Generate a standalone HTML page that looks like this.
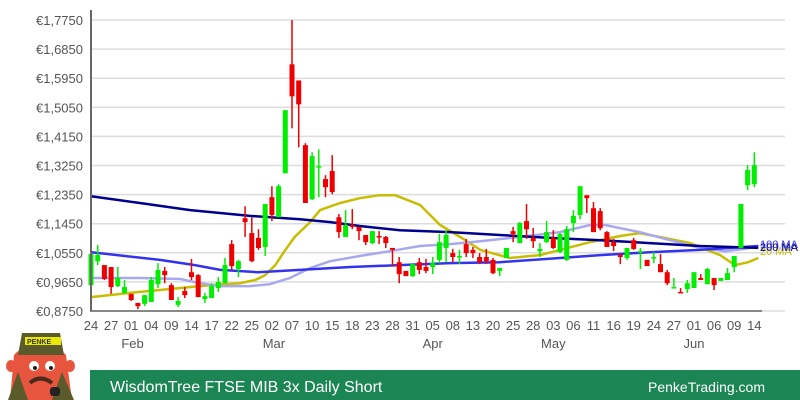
<!DOCTYPE html>
<html><head><meta charset="utf-8"><style>
body{margin:0;background:#fff;}
svg{display:block;font-family:"Liberation Sans",Arial,sans-serif;}
</style></head><body>
<svg id="chart" width="800" height="400" viewBox="0 0 800 400">
  <g id="grid"></g>
  <g id="yticks"></g>
  <g id="mas"></g>
  <g id="candles"></g>
  <g id="xticks"></g>
  <line x1="91" y1="10" x2="91" y2="311" stroke="#666" stroke-width="2"/>
  <line x1="90" y1="311" x2="762" y2="311" stroke="#666" stroke-width="1.5"/>
  <g id="malabels" font-size="11">
    <text x="760" y="250" fill="#a0a0ee">50 MA</text>
    <text x="760" y="255" fill="#c8bd00">20 MA</text>
    <text x="760" y="248" fill="#3333ee">100 MA</text>
    <text x="760" y="251" fill="#000080">200 MA</text>
  </g>
  <rect x="90" y="370" width="710" height="30" fill="#1b8553"/>
  <text x="110" y="392" fill="#fff" font-size="16">WisdomTree FTSE MIB 3x Daily Short</text>
  <text x="648" y="392" fill="#fff" font-size="14">PenkeTrading.com</text>
  <g>
    <path d="M10 400 L14 355 Q22 345 40 345 Q58 345 66 355 L72 400 Z" fill="#e8553e"/>
    <path d="M8 400 L18 372 L28 400 Z M52 400 L62 372 L74 400 Z" fill="#5b5a2a"/>
    <ellipse cx="11" cy="366" rx="5" ry="6" fill="#e8553e"/>
    <ellipse cx="70" cy="366" rx="5" ry="6" fill="#e8553e"/>
    <path d="M18 355 L22 333 L60 333 L64 355 Z" fill="#5b5a2a"/>
    <rect x="25" y="337" width="36" height="8" fill="#e8e800"/>
    <text x="27" y="344" font-size="7" font-weight="bold" fill="#333">PENKE</text>
    <circle cx="34" cy="366" r="5" fill="#fff"/><circle cx="50" cy="366" r="5" fill="#fff"/>
    <circle cx="35" cy="368" r="2" fill="#222"/><circle cx="51" cy="368" r="2" fill="#222"/>
    <path d="M30 383 Q40 374 52 383" stroke="#4a2a1a" stroke-width="4" fill="none"/>
    <rect x="50" y="387" width="10" height="9" rx="3" fill="#222"/>
  </g>
</svg>
<script>
// candle data (euro)
const opens  =[0.955,1.029,1.017,1.011,0.952,0.931,0.928,0.900,0.897,0.903,0.958,0.999,0.955,0.894,0.937,0.995,0.986,0.912,0.915,0.946,0.961,1.082,1.005,1.162,1.116,1.101,1.073,1.227,1.165,1.301,1.638,1.588,1.388,1.221,1.320,1.283,1.308,1.165,1.104,1.141,1.135,1.110,1.085,1.107,1.104,1.070,1.026,0.999,0.983,1.026,1.011,1.011,1.033,1.070,1.054,1.042,1.082,1.064,1.042,1.042,1.033,0.999,1.039,1.122,1.085,1.153,1.101,1.060,1.088,1.101,1.057,1.033,1.147,1.172,1.233,1.193,1.184,1.119,1.088,1.048,1.039,1.094,1.057,1.033,1.039,1.020,0.995,0.946,0.934,0.943,0.946,0.977,0.958,0.977,0.968,0.971,1.011,1.070,1.264,1.267];
const highs  =[1.070,1.079,1.017,1.011,1.011,0.971,0.928,0.900,0.924,0.980,1.023,1.011,0.961,0.918,0.949,1.036,0.989,0.931,0.961,0.980,1.039,1.094,1.033,1.199,1.165,1.128,1.206,1.261,1.267,1.496,1.775,1.588,1.394,1.366,1.375,1.295,1.357,1.175,1.187,1.190,1.135,1.110,1.122,1.122,1.107,1.070,1.042,0.999,1.020,1.039,1.036,1.042,1.113,1.125,1.067,1.064,1.098,1.073,1.054,1.067,1.039,1.008,1.070,1.135,1.150,1.206,1.132,1.085,1.153,1.125,1.116,1.138,1.187,1.261,1.233,1.212,1.193,1.122,1.098,1.054,1.070,1.101,1.070,1.033,1.057,1.051,1.002,0.977,0.946,0.971,0.995,0.989,1.008,0.977,0.977,1.008,1.045,1.206,1.326,1.366];
const lows   =[0.949,1.017,0.971,0.928,0.949,0.928,0.906,0.881,0.890,0.903,0.946,0.961,0.909,0.887,0.915,0.971,0.918,0.900,0.915,0.934,0.961,1.002,0.980,1.104,1.026,1.064,1.045,1.153,1.165,1.301,1.440,1.381,1.209,1.218,1.227,1.227,1.236,1.101,1.104,1.128,1.094,1.079,1.082,1.082,1.070,1.014,0.961,0.983,0.980,0.989,0.992,0.989,1.023,1.026,1.026,1.020,1.042,1.039,1.020,1.020,0.989,0.983,1.039,1.088,1.085,1.098,1.070,1.042,1.085,1.067,1.054,1.030,1.119,1.159,1.178,1.119,1.125,1.073,1.060,1.020,1.033,1.064,1.005,1.014,1.023,0.995,0.955,0.946,0.931,0.931,0.946,0.971,0.958,0.940,0.968,0.971,0.995,1.070,1.249,1.258];
const closes =[1.051,1.048,0.974,0.949,0.977,0.949,0.909,0.890,0.924,0.971,1.002,0.986,0.909,0.906,0.924,0.980,0.918,0.921,0.952,0.965,1.017,1.014,1.029,1.150,1.029,1.070,1.206,1.172,1.261,1.496,1.539,1.514,1.209,1.354,1.323,1.258,1.243,1.119,1.141,1.135,1.122,1.088,1.122,1.104,1.085,1.064,0.989,0.983,1.020,1.002,0.999,1.023,1.088,1.110,1.042,1.045,1.054,1.054,1.026,1.029,0.992,1.008,1.070,1.113,1.147,1.128,1.091,1.067,1.119,1.070,1.113,1.128,1.169,1.261,1.224,1.119,1.131,1.073,1.076,1.042,1.070,1.067,1.060,1.014,1.042,0.995,0.961,0.949,0.931,0.961,0.995,0.971,1.005,0.955,0.977,0.992,1.045,1.206,1.311,1.326];
// moving averages: candle index positions and values
const ma200Idx=[0,7.3,14.8,23.7,31.2,35.7,40.1,46.1,53.6,61,68.5,76,83.4,90.9,99.6];
const ma200Val=[1.230,1.209,1.187,1.169,1.159,1.150,1.138,1.125,1.119,1.110,1.101,1.094,1.085,1.076,1.070];
const ma100Idx=[0,5.1,10.3,15.5,19.3,24.9,31.2,38.7,46.1,53.6,61,70,76,83.4,90.9,99.6];
const ma100Val=[1.057,1.045,1.033,1.017,1.002,0.995,1.002,1.011,1.017,1.023,1.026,1.039,1.048,1.057,1.064,1.076];
const ma50Idx=[0,7.3,13.3,16.3,19.3,23.7,26.7,29.7,32.7,35.7,40.1,44.6,49.1,53.6,58.1,64,70,74.5,76.7,81.9,86.4,90.9,94.6,97.6,99.6];
const ma50Val=[0.977,0.977,0.974,0.961,0.952,0.952,0.958,0.977,1.008,1.029,1.045,1.060,1.076,1.082,1.091,1.104,1.119,1.141,1.141,1.119,1.094,1.070,1.060,1.067,1.076];
const ma20Idx=[0,5.8,11.8,17.8,22.2,24.5,26,27.5,29,30.4,32.7,34.2,37.2,40.1,43.1,45.4,49.1,52.1,55.1,58.1,62.5,67,70,74.5,79,81.9,84.9,89.4,93.9,96.1,98.1,99.6];
const ma20Val=[0.918,0.931,0.943,0.955,0.961,0.971,0.986,1.017,1.064,1.104,1.150,1.187,1.209,1.224,1.233,1.233,1.203,1.141,1.104,1.064,1.039,1.048,1.064,1.088,1.107,1.116,1.104,1.085,1.048,1.017,1.026,1.039];
const yTicks=[1.775,1.685,1.595,1.505,1.415,1.325,1.235,1.145,1.055,0.965,0.875];
const dayLabels=["24","27","01","04","09","14","17","22","25","02","07","10","15","18","23","28","31","05","08","13","20","25","28","03","06","11","16","19","24","27","01","06","09","14"];
const monthLabels=["Feb","Mar","Apr","May","Jun"];
const monthIdx=[6.2,27.3,51,69,90];

const NS="http://www.w3.org/2000/svg";
const yMin=0.875,yMax=1.775,pTop=20,pBot=311;
function yS(v){return pTop+(yMax-v)/(yMax-yMin)*(pBot-pTop);}
function xS(i){return 91+i*6.7;}
function mk(tag,attrs,parent){const e=document.createElementNS(NS,tag);for(const k in attrs)e.setAttribute(k,attrs[k]);parent.appendChild(e);return e;}
const grid=document.getElementById('grid'),yt=document.getElementById('yticks');
yTicks.forEach(v=>{
  const l=mk('line',{x1:91,x2:785,y1:yS(v),y2:yS(v),stroke:'#ddd','stroke-width':1.5},grid);
  
  
  const t=mk('text',{x:36,y:yS(v)+5,'font-size':13,fill:'#555'},yt);
  t.textContent='€'+v.toFixed(4).replace('.',',');
  
  
});
const xt=document.getElementById('xticks');
dayLabels.forEach((d,k)=>{
  const t=mk('text',{x:xS(k*3),y:330,'font-size':13,fill:'#555','text-anchor':'middle'},xt);
  t.textContent=d;
  
  
});
monthLabels.forEach((m,k)=>{
  const t=mk('text',{x:xS(monthIdx[k]),y:348,'font-size':13,fill:'#555','text-anchor':'middle'},xt);
  t.textContent=m;
  
  
});
const mas=document.getElementById('mas');
[[ma20Idx,ma20Val,'#c8bd00','ma-20-line'],[ma50Idx,ma50Val,'#a8a8f0','ma-50-line'],[ma100Idx,ma100Val,'#3333ee','ma-100-line'],[ma200Idx,ma200Val,'#000090','ma-200-line']].forEach(s=>{
  const pts=s[0].map((ix,j)=>xS(ix).toFixed(1)+','+yS(s[1][j]).toFixed(1)).join(' ');
  const p=mk('polyline',{points:pts,fill:'none',stroke:s[2],'stroke-width':2.5},mas);
  
  
});
const cg=document.getElementById('candles');
opens.forEach((o,i)=>{
  const c=closes[i],up=c>=o,col=up?'#00ee00':'#ee0000',x=xS(i);
  const g=mk('g',{},cg);
  
  
  mk('line',{x1:x,x2:x,y1:yS(highs[i]),y2:yS(lows[i]),stroke:col,'stroke-width':1.5},g);
  const top=yS(Math.max(o,c)),h=Math.max(1.5,Math.abs(yS(o)-yS(c)));
  mk('rect',{x:x-2.5,y:top,width:5,height:h,fill:col},g);
});
</script>
</body></html>
